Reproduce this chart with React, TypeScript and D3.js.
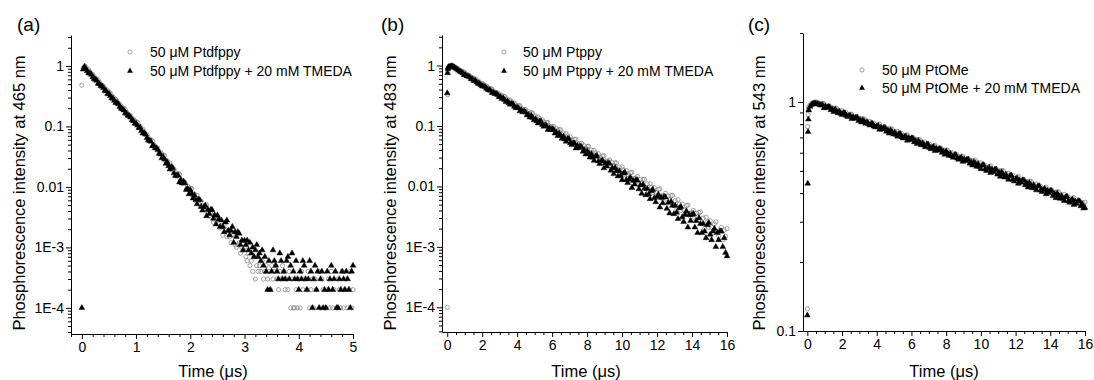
import React, { useEffect, useRef } from "react";
import * as d3 from "d3";

// ---- panel (a): Ptdfppy, 465 nm (time in µs) ----
const timeA = [
  0,
  0.025, 0.05, 0.075, 0.1, 0.125, 0.15, 0.175, 0.2, 0.225, 0.25,
  0.275, 0.3, 0.325, 0.35, 0.375, 0.4, 0.425, 0.45, 0.475, 0.5,
  0.525, 0.55, 0.575, 0.6, 0.625, 0.65, 0.675, 0.7, 0.725, 0.75,
  0.775, 0.8, 0.825, 0.85, 0.875, 0.9, 0.925, 0.95, 0.975, 1,
  1.025, 1.05, 1.075, 1.1, 1.125, 1.15, 1.175, 1.2, 1.225, 1.25,
  1.275, 1.3, 1.325, 1.35, 1.375, 1.4, 1.425, 1.45, 1.475, 1.5,
  1.525, 1.55, 1.575, 1.6, 1.625, 1.65, 1.675, 1.7, 1.725, 1.75,
  1.775, 1.8, 1.825, 1.85, 1.875, 1.9, 1.925, 1.95, 1.975, 2,
  2.025, 2.05, 2.075, 2.1, 2.125, 2.15, 2.175, 2.2, 2.225, 2.25,
  2.275, 2.3, 2.325, 2.35, 2.375, 2.4, 2.425, 2.45, 2.475, 2.5,
  2.525, 2.55, 2.575, 2.6, 2.625, 2.65, 2.675, 2.7, 2.725, 2.75,
  2.775, 2.8, 2.825, 2.85, 2.875, 2.9, 2.925, 2.95, 2.975, 3,
  3.025, 3.05, 3.075, 3.1, 3.125, 3.15, 3.175, 3.2, 3.225, 3.25,
  3.275, 3.3, 3.325, 3.35, 3.375, 3.4, 3.425, 3.45, 3.475, 3.5,
  3.525, 3.55, 3.575, 3.6, 3.625, 3.65, 3.675, 3.7, 3.725, 3.75,
  3.775, 3.8, 3.825, 3.85, 3.875, 3.9, 3.925, 3.95, 3.975, 4,
  4.025, 4.05, 4.075, 4.1, 4.125, 4.15, 4.175, 4.2, 4.225, 4.25,
  4.275, 4.3, 4.325, 4.35, 4.375, 4.4, 4.425, 4.45, 4.475, 4.5,
  4.525, 4.55, 4.575, 4.6, 4.625, 4.65, 4.675, 4.7, 4.725, 4.75,
  4.775, 4.8, 4.825, 4.85, 4.875, 4.9, 4.925, 4.95, 4.975, 5,
];
const ptdfppy = [
  0.48,
  0.93, 1.0, 0.954, 0.866, 0.864, 0.803, 0.738, 0.724, 0.668, 0.62,
  0.613, 0.586, 0.532, 0.496, 0.481, 0.464, 0.416, 0.411, 0.381, 0.372,
  0.352, 0.318, 0.309, 0.28, 0.28, 0.26, 0.239, 0.234, 0.216, 0.2,
  0.199, 0.19, 0.172, 0.16, 0.155, 0.15, 0.135, 0.133, 0.123, 0.12,
  0.117, 0.102, 0.1, 0.0878, 0.09, 0.0818, 0.0731, 0.0727, 0.0654, 0.0593,
  0.0603, 0.0577, 0.0498, 0.0454, 0.045, 0.0436, 0.0368, 0.0375, 0.0339, 0.0338,
  0.033, 0.0264, 0.0271, 0.0221, 0.0248, 0.022, 0.0188, 0.0198, 0.0172, 0.015,
  0.0166, 0.0162, 0.013, 0.0115, 0.012, 0.012, 0.0092, 0.0103, 0.009, 0.0096,
  0.0094, 0.007, 0.0076, 0.0059, 0.0073, 0.0063, 0.0051, 0.0058, 0.0049, 0.0042,
  0.005, 0.0051, 0.0037, 0.0033, 0.0037, 0.0038, 0.0026, 0.0032, 0.0027, 0.0031,
  0.003, 0.0021, 0.0023, 0.0016, 0.0024, 0.002, 0.0015, 0.0019, 0.0015, 0.0012,
  0.0016, 0.0016, 0.0011, 0.001, 0.0011, 0.0012, 0.0008, 0.001, 0.0009, 0.001,
  0.0007, 0.0006, 0.0008, 0.0005, 0.0006, 0.0004, 0.0007, 0.0003, 0.0005, 0.0004,
  0.0005, 0.0004, 0.0006, 0.0003, 0.0004, 0.0005, 0.0003, 0.0004, 0.0002, 0.0005,
  0.0003, 0.0004, 0.0005, 0.0003, 0.0002, 0.0004, 0.0003, 0.0005, 0.0004, 0.0002,
  0.0003, 0.0002, 0.0004, 0.0001, 0.0003, 0.0001, 0.0001, 0.0002, 0.0001, 0.0003,
  0.0001, 0.0004, 0.0002, 0.0003, 0, 0.0002, 0.0004, 0.0001, 0.0002, 0.0003,
  0.0001, 0.0003, 0.0002, 0, 0.0004, 0.0001, 0.0003, 0.0002, 0.0001, 0.0001,
  0.0002, 0.0003, 0.0001, 0.0004, 0.0001, 0.0002, 0, 0.0001, 0.0003, 0.0002,
  0.0001, 0.0004, 0.0001, 0.0002, 0.0003, 0.0001, 0.0002, 0.0004, 0.0001, 0.0002,
];
const ptdfppyTmeda = [
  0.0001,
  0.88, 0.97, 0.892, 0.823, 0.764, 0.755, 0.722, 0.655, 0.612, 0.594,
  0.572, 0.513, 0.506, 0.469, 0.458, 0.435, 0.392, 0.381, 0.345, 0.345,
  0.32, 0.295, 0.289, 0.267, 0.247, 0.244, 0.234, 0.212, 0.198, 0.193,
  0.185, 0.166, 0.164, 0.152, 0.148, 0.141, 0.127, 0.123, 0.112, 0.112,
  0.104, 0.0943, 0.096, 0.0846, 0.0768, 0.0776, 0.074, 0.0646, 0.0593, 0.0581,
  0.0564, 0.0476, 0.0485, 0.0439, 0.0438, 0.0412, 0.0356, 0.0346, 0.03, 0.0313,
  0.0285, 0.0243, 0.0257, 0.0222, 0.0195, 0.0213, 0.0207, 0.0169, 0.0152, 0.0155,
  0.0156, 0.0119, 0.0132, 0.0115, 0.0123, 0.0115, 0.009, 0.0094, 0.0076, 0.0089,
  0.0078, 0.0065, 0.0073, 0.0061, 0.0052, 0.0062, 0.0061, 0.0047, 0.0041, 0.0046,
  0.0049, 0.0033, 0.0042, 0.0036, 0.0042, 0.0042, 0.003, 0.0034, 0.0024, 0.0034,
  0.0029, 0.0022, 0.0028, 0.0022, 0.0018, 0.0026, 0.0028, 0.0019, 0.0016, 0.0019,
  0.0022, 0.0012, 0.0018, 0.0015, 0.0018, 0.0017, 0.0011, 0.0013, 0.0009, 0.0013,
  0.0011, 0.0013, 0.0009, 0.0012, 0.0008, 0.001, 0.0007, 0.0009, 0.0011, 0.0007,
  0.0008, 0.0006, 0.0009, 0.0005, 0.0007, 0.0004, 0.0002, 0.0006, 0.0002, 0.0004,
  0.0009, 0.0006, 0.0005, 0.0004, 0.0003, 0.0008, 0.0006, 0.0003, 0.0004, 0.0003,
  0.0006, 0.0007, 0.0003, 0.0005, 0.0008, 0.0004, 0.0003, 0.0006, 0.0003, 0.0002,
  0.0004, 0.0003, 0.0006, 0.0005, 0.0003, 0.0002, 0.0003, 0.0006, 0.0004, 0.0001,
  0.0003, 0.0005, 0.0002, 0.0004, 0.0001, 0.0003, 0.0004, 0.0001, 0.0002, 0.0001,
  0.0004, 0.0002, 0.0003, 0.0005, 0.0002, 0.0003, 0.0004, 0.0001, 0.0001, 0.0003,
  0.0002, 0.0004, 0.0003, 0.0002, 0.0004, 0.0003, 0.0002, 0.0001, 0.0004, 0.0005,
];

// ---- panels (b) and (c) share one time base (µs) ----
const timeBC = [
  0, 0.02, 0.04, 0.06,
  0.08, 0.16, 0.24, 0.32, 0.4, 0.48, 0.56, 0.64, 0.72, 0.8,
  0.88, 0.96, 1.04, 1.12, 1.2, 1.28, 1.36, 1.44, 1.52, 1.6,
  1.68, 1.76, 1.84, 1.92, 2, 2.08, 2.16, 2.24, 2.32, 2.4,
  2.48, 2.56, 2.64, 2.72, 2.8, 2.88, 2.96, 3.04, 3.12, 3.2,
  3.28, 3.36, 3.44, 3.52, 3.6, 3.68, 3.76, 3.84, 3.92, 4,
  4.08, 4.16, 4.24, 4.32, 4.4, 4.48, 4.56, 4.64, 4.72, 4.8,
  4.88, 4.96, 5.04, 5.12, 5.2, 5.28, 5.36, 5.44, 5.52, 5.6,
  5.68, 5.76, 5.84, 5.92, 6, 6.08, 6.16, 6.24, 6.32, 6.4,
  6.48, 6.56, 6.64, 6.72, 6.8, 6.88, 6.96, 7.04, 7.12, 7.2,
  7.28, 7.36, 7.44, 7.52, 7.6, 7.68, 7.76, 7.84, 7.92, 8,
  8.08, 8.16, 8.24, 8.32, 8.4, 8.48, 8.56, 8.64, 8.72, 8.8,
  8.88, 8.96, 9.04, 9.12, 9.2, 9.28, 9.36, 9.44, 9.52, 9.6,
  9.68, 9.76, 9.84, 9.92, 10, 10.08, 10.16, 10.24, 10.32, 10.4,
  10.48, 10.56, 10.64, 10.72, 10.8, 10.88, 10.96, 11.04, 11.12, 11.2,
  11.28, 11.36, 11.44, 11.52, 11.6, 11.68, 11.76, 11.84, 11.92, 12,
  12.08, 12.16, 12.24, 12.32, 12.4, 12.48, 12.56, 12.64, 12.72, 12.8,
  12.88, 12.96, 13.04, 13.12, 13.2, 13.28, 13.36, 13.44, 13.52, 13.6,
  13.68, 13.76, 13.84, 13.92, 14, 14.08, 14.16, 14.24, 14.32, 14.4,
  14.48, 14.56, 14.64, 14.72, 14.8, 14.88, 14.96, 15.04, 15.12, 15.2,
  15.28, 15.36, 15.44, 15.52, 15.6, 15.68, 15.76, 15.84, 15.92, 16,
];

// panel (b): Ptppy, 483 nm
const ptppy = [
  0.0001, 0.33, 0.78, 0.9,
  0.95, 0.98, 0.995, 0.992, 0.968, 0.931, 0.886, 0.879, 0.837, 0.8,
  0.798, 0.778, 0.733, 0.704, 0.693, 0.678, 0.635, 0.632, 0.605, 0.598,
  0.579, 0.543, 0.535, 0.505, 0.506, 0.484, 0.46, 0.457, 0.434, 0.415,
  0.416, 0.408, 0.378, 0.362, 0.36, 0.354, 0.326, 0.329, 0.313, 0.313,
  0.307, 0.278, 0.279, 0.256, 0.266, 0.252, 0.235, 0.239, 0.224, 0.211,
  0.218, 0.216, 0.195, 0.184, 0.187, 0.186, 0.165, 0.172, 0.161, 0.165,
  0.164, 0.142, 0.146, 0.129, 0.141, 0.132, 0.12, 0.126, 0.116, 0.107,
  0.115, 0.114, 0.1, 0.0944, 0.0975, 0.0982, 0.0843, 0.0902, 0.0837, 0.0873,
  0.0867, 0.0727, 0.0764, 0.0655, 0.0747, 0.0686, 0.0611, 0.0659, 0.0594, 0.0543,
  0.0603, 0.0604, 0.0517, 0.0482, 0.0507, 0.0517, 0.0428, 0.0471, 0.0432, 0.046,
  0.0461, 0.037, 0.04, 0.0329, 0.0397, 0.0358, 0.0311, 0.0348, 0.0306, 0.0274,
  0.0318, 0.0323, 0.0265, 0.0243, 0.0264, 0.0273, 0.0215, 0.0247, 0.0224, 0.0245,
  0.0246, 0.0188, 0.021, 0.0165, 0.0211, 0.0187, 0.0158, 0.0183, 0.0158, 0.0138,
  0.0168, 0.0171, 0.0135, 0.0123, 0.0137, 0.0145, 0.0108, 0.013, 0.0115, 0.0131,
  0.0131, 0.0095, 0.011, 0.0082, 0.0111, 0.0097, 0.0079, 0.0096, 0.008, 0.007,
  0.0089, 0.0091, 0.007, 0.0062, 0.0071, 0.0077, 0.0054, 0.0069, 0.006, 0.007,
  0.0071, 0.0049, 0.0058, 0.0041, 0.006, 0.0051, 0.004, 0.0051, 0.0041, 0.0035,
  0.0048, 0.0049, 0.0036, 0.0031, 0.0037, 0.004, 0.0027, 0.0036, 0.0031, 0.0037,
  0.0038, 0.0025, 0.003, 0.002, 0.0031, 0.0026, 0.0021, 0.0027, 0.0021, 0.0017,
  0.0024, 0.0026, 0.0018, 0.0015, 0.0019, 0.0021, 0.0013, 0.0019, 0.0015, 0.002,
];
const ptppyTmeda = [
  0.35, 0.75, 0.88, 0.93,
  0.95, 0.97, 0.98, 0.972, 0.93, 0.896, 0.874, 0.832, 0.799, 0.779,
  0.752, 0.703, 0.701, 0.669, 0.662, 0.642, 0.602, 0.593, 0.56, 0.561,
  0.53, 0.505, 0.5, 0.476, 0.455, 0.453, 0.443, 0.417, 0.4, 0.394,
  0.384, 0.353, 0.356, 0.339, 0.339, 0.329, 0.303, 0.302, 0.281, 0.288,
  0.27, 0.252, 0.256, 0.24, 0.227, 0.233, 0.229, 0.21, 0.2, 0.2,
  0.197, 0.176, 0.182, 0.17, 0.175, 0.169, 0.151, 0.153, 0.139, 0.148,
  0.137, 0.125, 0.13, 0.12, 0.111, 0.12, 0.119, 0.105, 0.098, 0.102,
  0.1004, 0.0866, 0.0921, 0.0858, 0.0895, 0.0871, 0.0755, 0.0779, 0.0687, 0.0754,
  0.0696, 0.0619, 0.0669, 0.0602, 0.0551, 0.0611, 0.0611, 0.0523, 0.0487, 0.0513,
  0.0516, 0.0428, 0.0471, 0.0432, 0.046, 0.0449, 0.0377, 0.0396, 0.034, 0.0387,
  0.0353, 0.0304, 0.0344, 0.0301, 0.0267, 0.0316, 0.032, 0.026, 0.0237, 0.026,
  0.027, 0.0201, 0.0243, 0.0215, 0.0244, 0.0239, 0.0183, 0.0203, 0.0161, 0.0204,
  0.018, 0.0147, 0.0179, 0.015, 0.0128, 0.0164, 0.0169, 0.0128, 0.0115, 0.0131,
  0.014, 0.0095, 0.0124, 0.0108, 0.0127, 0.0126, 0.009, 0.0104, 0.0076, 0.0107,
  0.0092, 0.0072, 0.0091, 0.0074, 0.0062, 0.0084, 0.0088, 0.0064, 0.0055, 0.0067,
  0.0073, 0.0045, 0.0065, 0.0053, 0.0067, 0.0066, 0.0043, 0.0054, 0.0036, 0.0056,
  0.0048, 0.0035, 0.0048, 0.0037, 0.0029, 0.0044, 0.0046, 0.0031, 0.0026, 0.0034,
  0.0039, 0.0021, 0.0034, 0.0027, 0.0034, 0.0035, 0.0021, 0.0027, 0.0017, 0.003,
  0.0024, 0.0017, 0.0024, 0.0018, 0.0014, 0.0023, 0.0025, 0.0016, 0.0013, 0.0018,
  0.002, 0.001, 0.0017, 0.0013, 0.0018, 0.0018, 0.001, 0.0014, 0.0008, 0.0007,
];

// panel (c): PtOMe, 543 nm
const ptome = [
  0.125, 0.78, 0.88, 0.93,
  0.95, 0.97, 0.985, 0.993, 0.998, 1.0, 0.998, 0.991, 0.985, 0.98,
  0.984, 0.985, 0.959, 0.948, 0.955, 0.959, 0.93, 0.945, 0.931, 0.942,
  0.938, 0.911, 0.918, 0.895, 0.916, 0.903, 0.886, 0.897, 0.881, 0.869,
  0.884, 0.884, 0.862, 0.852, 0.859, 0.862, 0.836, 0.849, 0.837, 0.846,
  0.843, 0.819, 0.826, 0.806, 0.823, 0.811, 0.797, 0.806, 0.792, 0.781,
  0.797, 0.8, 0.774, 0.763, 0.773, 0.778, 0.748, 0.765, 0.752, 0.765,
  0.762, 0.734, 0.743, 0.72, 0.743, 0.73, 0.713, 0.727, 0.712, 0.699,
  0.716, 0.718, 0.695, 0.686, 0.694, 0.7, 0.672, 0.687, 0.676, 0.687,
  0.684, 0.66, 0.668, 0.648, 0.668, 0.657, 0.641, 0.653, 0.639, 0.628,
  0.645, 0.646, 0.625, 0.616, 0.624, 0.629, 0.605, 0.618, 0.608, 0.618,
  0.616, 0.593, 0.601, 0.582, 0.6, 0.59, 0.577, 0.587, 0.575, 0.565,
  0.579, 0.58, 0.561, 0.554, 0.561, 0.565, 0.543, 0.555, 0.546, 0.555,
  0.558, 0.531, 0.542, 0.519, 0.543, 0.531, 0.515, 0.53, 0.516, 0.504,
  0.523, 0.526, 0.503, 0.495, 0.504, 0.511, 0.484, 0.501, 0.49, 0.502,
  0.501, 0.477, 0.486, 0.467, 0.488, 0.478, 0.463, 0.477, 0.463, 0.453,
  0.47, 0.473, 0.452, 0.445, 0.453, 0.459, 0.435, 0.45, 0.441, 0.451,
  0.45, 0.429, 0.438, 0.419, 0.439, 0.429, 0.416, 0.428, 0.416, 0.407,
  0.422, 0.425, 0.406, 0.4, 0.408, 0.412, 0.391, 0.404, 0.396, 0.406,
  0.405, 0.385, 0.393, 0.377, 0.395, 0.386, 0.375, 0.385, 0.375, 0.366,
  0.38, 0.382, 0.366, 0.36, 0.367, 0.371, 0.352, 0.364, 0.357, 0.365,
];
const ptomeTmeda = [
  0.117, 0.44, 0.74, 0.84,
  0.92, 0.955, 0.972, 0.98, 0.985, 0.983, 0.981, 0.976, 0.97, 0.966,
  0.97, 0.941, 0.957, 0.942, 0.953, 0.949, 0.922, 0.929, 0.906, 0.926,
  0.913, 0.895, 0.907, 0.891, 0.879, 0.895, 0.895, 0.872, 0.862, 0.869,
  0.872, 0.845, 0.859, 0.846, 0.856, 0.853, 0.828, 0.835, 0.815, 0.832,
  0.821, 0.805, 0.816, 0.802, 0.79, 0.804, 0.805, 0.783, 0.775, 0.781,
  0.787, 0.757, 0.774, 0.76, 0.773, 0.77, 0.743, 0.752, 0.729, 0.752,
  0.739, 0.722, 0.735, 0.72, 0.707, 0.725, 0.726, 0.703, 0.694, 0.702,
  0.707, 0.679, 0.696, 0.684, 0.695, 0.694, 0.668, 0.676, 0.656, 0.676,
  0.664, 0.649, 0.661, 0.647, 0.635, 0.652, 0.653, 0.632, 0.623, 0.631,
  0.636, 0.612, 0.626, 0.615, 0.625, 0.623, 0.601, 0.608, 0.589, 0.608,
  0.597, 0.583, 0.594, 0.581, 0.572, 0.586, 0.588, 0.567, 0.56, 0.567,
  0.571, 0.549, 0.562, 0.553, 0.562, 0.56, 0.539, 0.546, 0.529, 0.546,
  0.538, 0.522, 0.536, 0.522, 0.51, 0.529, 0.531, 0.509, 0.501, 0.51,
  0.516, 0.49, 0.507, 0.495, 0.507, 0.507, 0.483, 0.492, 0.472, 0.494,
  0.483, 0.469, 0.482, 0.469, 0.458, 0.476, 0.478, 0.458, 0.45, 0.459,
  0.464, 0.44, 0.455, 0.446, 0.456, 0.455, 0.434, 0.442, 0.424, 0.443,
  0.433, 0.421, 0.433, 0.421, 0.412, 0.428, 0.43, 0.411, 0.405, 0.413,
  0.417, 0.396, 0.41, 0.401, 0.411, 0.409, 0.389, 0.397, 0.381, 0.399,
  0.39, 0.379, 0.389, 0.379, 0.37, 0.384, 0.387, 0.37, 0.364, 0.371,
  0.375, 0.356, 0.368, 0.36, 0.37, 0.369, 0.351, 0.358, 0.343, 0.345,
];

// tick labels
const yTicksAB = [1e-4, 1e-3, 0.01, 0.1, 1];
const yLabelsAB = ["1E-4", "1E-3", "0.01", "0.1", "1"];
const yTicksC = [0.1, 1];
const yLabelsC = ["0.1", "1"];
const xTicksA = [0, 1, 2, 3, 4, 5];
const xTicksBC = [0, 2, 4, 6, 8, 10, 12, 14, 16];

const FONT = "'Liberation Sans', Arial, Helvetica, sans-serif";

const panels = [
  {
    tag: "(a)", tagX: 17,
    yTitle: "Phosphorescence intensity at 465 nm", yTitleX: 25, xTitleX: 213,
    left: 71, right: 353, top: 35, bottom: 334,
    xDomain: [-0.2, 5], xMajor: xTicksA, xMinorStep: 0.2,
    yDomain: [3.7e-5, 3.25], yMajor: yTicksAB, yLabels: yLabelsAB,
    time: timeA, circles: ptdfppy, triangles: ptdfppyTmeda,
    names: ["50 \u03bcM Ptdfppy", "50 \u03bcM Ptdfppy + 20 mM TMEDA"],
    legendX: 130, legendY: 52, legendGap: 19, textX: 150,
  },
  {
    tag: "(b)", tagX: 381,
    yTitle: "Phosphorescence intensity at 483 nm", yTitleX: 396, xTitleX: 586,
    left: 442, right: 727, top: 35, bottom: 332,
    xDomain: [-0.3, 16], xMajor: xTicksBC, xMinorStep: 0.5,
    yDomain: [3.9e-5, 3.2], yMajor: yTicksAB, yLabels: yLabelsAB,
    time: timeBC, circles: ptppy, triangles: ptppyTmeda,
    names: ["50 \u03bcM Ptppy", "50 \u03bcM Ptppy + 20 mM TMEDA"],
    legendX: 504, legendY: 52, legendGap: 19, textX: 523,
  },
  {
    tag: "(c)", tagX: 748,
    yTitle: "Phosphorescence intensity at 543 nm", yTitleX: 765, xTitleX: 944,
    left: 803, right: 1085, top: 33, bottom: 331,
    xDomain: [-0.25, 16], xMajor: xTicksBC, xMinorStep: 0.5,
    yDomain: [0.1, 2], yMajor: yTicksC, yLabels: yLabelsC,
    time: timeBC, circles: ptome, triangles: ptomeTmeda,
    names: ["50 \u03bcM PtOMe", "50 \u03bcM PtOMe + 20 mM TMEDA"],
    legendX: 862, legendY: 70, legendGap: 18, textX: 882,
  },
];

const drawPanel = (svg: any, p: any) => {
  const x = d3.scaleLinear().domain(p.xDomain).range([p.left, p.right]);
  const y = d3.scaleLog().domain(p.yDomain).range([p.bottom, p.top]);
  const g = svg.append("g");

  // log minor ticks 2..9 of each decade
  const yMinor: number[] = [];
  const e0 = Math.floor(Math.log10(p.yDomain[0]));
  const e1 = Math.ceil(Math.log10(p.yDomain[1]));
  for (let e = e0; e <= e1; e++) {
    for (let m = 2; m <= 9; m++) {
      const v = +(m * Math.pow(10, e)).toPrecision(3);
      if (v >= p.yDomain[0] && v <= p.yDomain[1]) yMinor.push(v);
    }
  }
  const xMinor: number[] = [];
  const n0 = Math.ceil(p.xDomain[0] / p.xMinorStep - 1e-6);
  const n1 = Math.floor(p.xDomain[1] / p.xMinorStep + 1e-6);
  for (let n = n0; n <= n1; n++) {
    const v = +(n * p.xMinorStep).toFixed(3);
    if (!p.xMajor.includes(v)) xMinor.push(v);
  }

  // zero counts can't sit on a log axis, Origin just drops them
  const pts = (vals: number[]) =>
    p.time
      .map((t: number, i: number) => [t, vals[i]])
      .filter((d: number[]) => d[1] > 0 && d[1] >= p.yDomain[0] && d[1] <= p.yDomain[1]);

  g.append("g")
    .selectAll("circle")
    .data(pts(p.circles))
    .join("circle")
    .attr("cx", (d: number[]) => x(d[0]))
    .attr("cy", (d: number[]) => y(d[1]))
    .attr("r", 2.1)
    .attr("fill", "none")
    .attr("stroke", "#8a8a8a")
    .attr("stroke-width", 0.8);

  const tri = d3.symbol().type(d3.symbolTriangle).size(15);
  g.append("g")
    .selectAll("path")
    .data(pts(p.triangles))
    .join("path")
    .attr("transform", (d: number[]) => `translate(${x(d[0])},${y(d[1])})`)
    .attr("d", tri)
    .attr("fill", "#000")
    .attr("stroke", "#000")
    .attr("stroke-width", 0.4);

  // axes
  const yAxis = g
    .append("g")
    .attr("transform", `translate(${p.left},0)`)
    .call(
      d3
        .axisLeft(y)
        .tickValues(p.yMajor)
        .tickFormat((d: any, i: number) => p.yLabels[i])
        .tickSize(5)
        .tickSizeOuter(0)
        .tickPadding(2)
    );
  g.append("g")
    .attr("transform", `translate(${p.left},0)`)
    .call(d3.axisLeft(y).tickValues(yMinor).tickFormat(() => "").tickSize(3).tickSizeOuter(0))
    .call((a: any) => a.select(".domain").remove());

  const xAxis = g
    .append("g")
    .attr("transform", `translate(0,${p.bottom})`)
    .call(
      d3
        .axisBottom(x)
        .tickValues(p.xMajor)
        .tickFormat(d3.format("d"))
        .tickSize(5)
        .tickSizeOuter(0)
        .tickPadding(3)
    );
  g.append("g")
    .attr("transform", `translate(0,${p.bottom})`)
    .call(d3.axisBottom(x).tickValues(xMinor).tickFormat(() => "").tickSize(3).tickSizeOuter(0))
    .call((a: any) => a.select(".domain").remove());

  [yAxis, xAxis].forEach((a: any) => {
    a.attr("font-family", FONT).attr("font-size", 14);
    a.selectAll("text").attr("fill", "#000");
  });
  g.selectAll(".domain, .tick line").attr("stroke", "#000");

  // titles
  g.append("text")
    .attr("transform", `translate(${p.yTitleX},193) rotate(-90)`)
    .attr("text-anchor", "middle")
    .attr("font-family", FONT)
    .attr("font-size", 16.5)
    .text(p.yTitle);
  g.append("text")
    .attr("x", p.xTitleX)
    .attr("y", 377)
    .attr("text-anchor", "middle")
    .attr("font-family", FONT)
    .attr("font-size", 16.5)
    .text("Time (\u03bcs)");
  g.append("text")
    .attr("x", p.tagX)
    .attr("y", 31)
    .attr("font-family", FONT)
    .attr("font-size", 19)
    .text(p.tag);

  // legend
  const lg = g.append("g").attr("font-family", FONT).attr("font-size", 14);
  lg.append("circle")
    .attr("cx", p.legendX)
    .attr("cy", p.legendY)
    .attr("r", 2.1)
    .attr("fill", "none")
    .attr("stroke", "#8a8a8a")
    .attr("stroke-width", 0.8);
  lg.append("path")
    .attr("transform", `translate(${p.legendX},${p.legendY + p.legendGap})`)
    .attr("d", tri)
    .attr("fill", "#000");
  p.names.forEach((name: string, i: number) => {
    lg.append("text")
      .attr("x", p.textX)
      .attr("y", p.legendY + 5 + i * p.legendGap)
      .text(name);
  });
};

export default function App() {
  const ref = useRef<SVGSVGElement | null>(null);

  useEffect(() => {
    const svg = d3.select(ref.current);
    svg.selectAll("*").remove();
    panels.forEach((p) => drawPanel(svg, p));
  }, []);

  return (
    <svg
      ref={ref}
      width={1094}
      height={380}
      style={{ position: "absolute", left: 0, top: 0, background: "#fff" }}
    />
  );
}
